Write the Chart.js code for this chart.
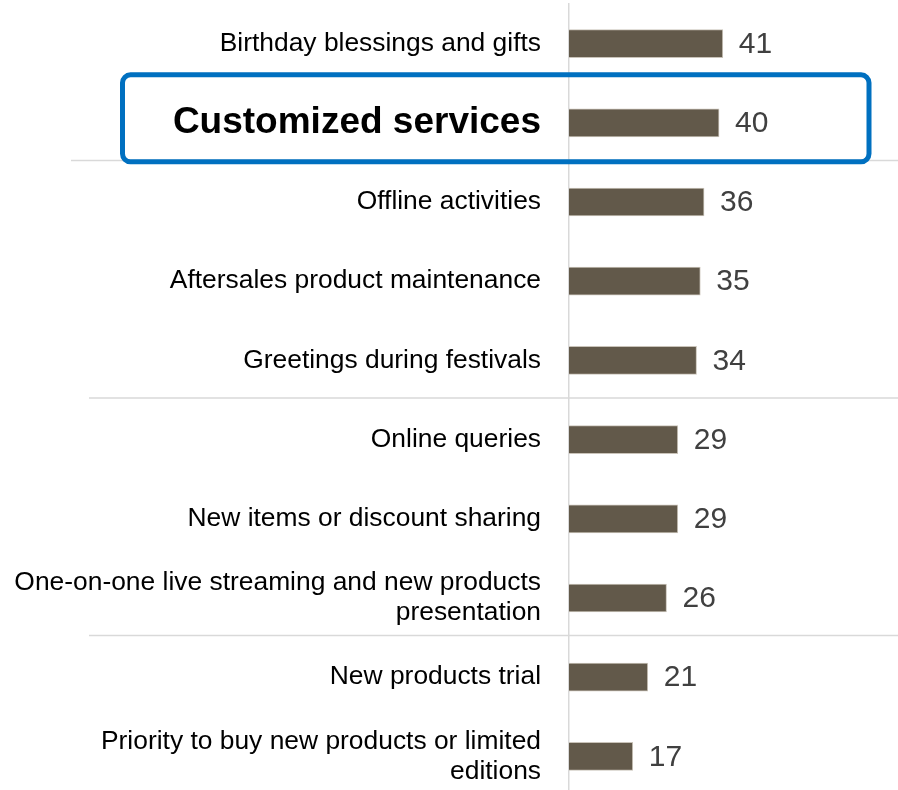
<!DOCTYPE html>
<html>
<head>
<meta charset="utf-8">
<script src="https://cdn.jsdelivr.net/npm/chart.js@4.4.1/dist/chart.umd.min.js"></script>
<style>
  html, body { margin: 0; padding: 0; background: #ffffff; overflow: hidden; }
  #wrap { width: 898px; height: 800px; position: relative; }
</style>
</head>
<body>
<div id="wrap"><canvas id="c"></canvas></div>
<script>
const categories = [
  'Birthday blessings and gifts',
  'Customized services',
  'Offline activities',
  'Aftersales product maintenance',
  'Greetings during festivals',
  'Online queries',
  'New items or discount sharing',
  ['One-on-one live streaming and new products', 'presentation'],
  'New products trial',
  ['Priority to buy new products or limited', 'editions']
];
const values = [41, 40, 36, 35, 34, 29, 29, 26, 21, 17];
const highlightIndex = 1;
const groupBreaks = [1, 4, 7];

const FONT = '"Liberation Sans", Arial, Helvetica, sans-serif';
Chart.defaults.font.family = FONT;

const valueLabels = {
  id: 'valueLabels',
  afterDatasetsDraw(chart) {
    const ctx = chart.ctx;
    const meta = chart.getDatasetMeta(0);
    ctx.save();
    ctx.font = '30px ' + FONT;
    ctx.fillStyle = '#404040';
    ctx.textAlign = 'left';
    ctx.textBaseline = 'middle';
    meta.data.forEach((bar, i) => {
      ctx.fillText(String(values[i]), bar.x + 16, bar.y + 1);
    });
    ctx.restore();
  }
};

const separators = {
  id: 'separators',
  beforeDatasetsDraw(chart) {
    const ctx = chart.ctx;
    const y = chart.scales.y;
    ctx.save();
    ctx.strokeStyle = '#d9d9d9';
    ctx.lineWidth = 1.5;
    groupBreaks.forEach((b, k) => {
      const py = y.getPixelForValue(b + 0.5) - 2;
      const startX = k === 0 ? 71 : 89;
      ctx.beginPath();
      ctx.moveTo(startX, py);
      ctx.lineTo(chart.width, py);
      ctx.stroke();
    });
    ctx.restore();
  }
};

const highlightBox = {
  id: 'highlightBox',
  afterDraw(chart) {
    const ctx = chart.ctx;
    const y = chart.scales.y;
    const cy = y.getPixelForValue(highlightIndex);
    const top = cy - 48;
    const bottom = cy + 39;
    const left = 122.5, right = 869;
    ctx.save();
    ctx.strokeStyle = '#0070C0';
    ctx.lineWidth = 5;
    ctx.beginPath();
    ctx.roundRect(left, top, right - left, bottom - top, 8);
    ctx.stroke();
    ctx.restore();
  }
};

new Chart(document.getElementById('c'), {
  type: 'bar',
  data: {
    labels: categories,
    datasets: [{
      data: values,
      backgroundColor: '#62594A',
      borderColor: '#c9c3b9',
      borderWidth: 1,
      barThickness: 28
    }]
  },
  options: {
    indexAxis: 'y',
    responsive: true,
    maintainAspectRatio: false,
    animation: false,
    layout: { padding: { top: 4, bottom: 4, left: 0, right: 0 } },
    plugins: {
      legend: { display: false },
      tooltip: { enabled: false }
    },
    scales: {
      x: {
        display: false,
        min: 0,
        max: 87.7
      },
      y: {
        afterFit(scale) {
          scale.width = 569;
          scale.paddingTop = 0;
          scale.paddingBottom = 0;
        },
        grid: { display: false, drawTicks: false },
        border: { display: true, color: '#d9d9d9', width: 1.5 },
        ticks: {
          autoSkip: false,
          padding: 28,
          color: '#000000',
          font: (c) => c.index === highlightIndex
            ? { size: 37, weight: 'bold', family: FONT, lineHeight: 1.15 }
            : { size: 26.4, family: FONT, lineHeight: 1.13 }
        }
      }
    }
  },
  plugins: [separators, valueLabels, highlightBox]
});
</script>
</body>
</html>
